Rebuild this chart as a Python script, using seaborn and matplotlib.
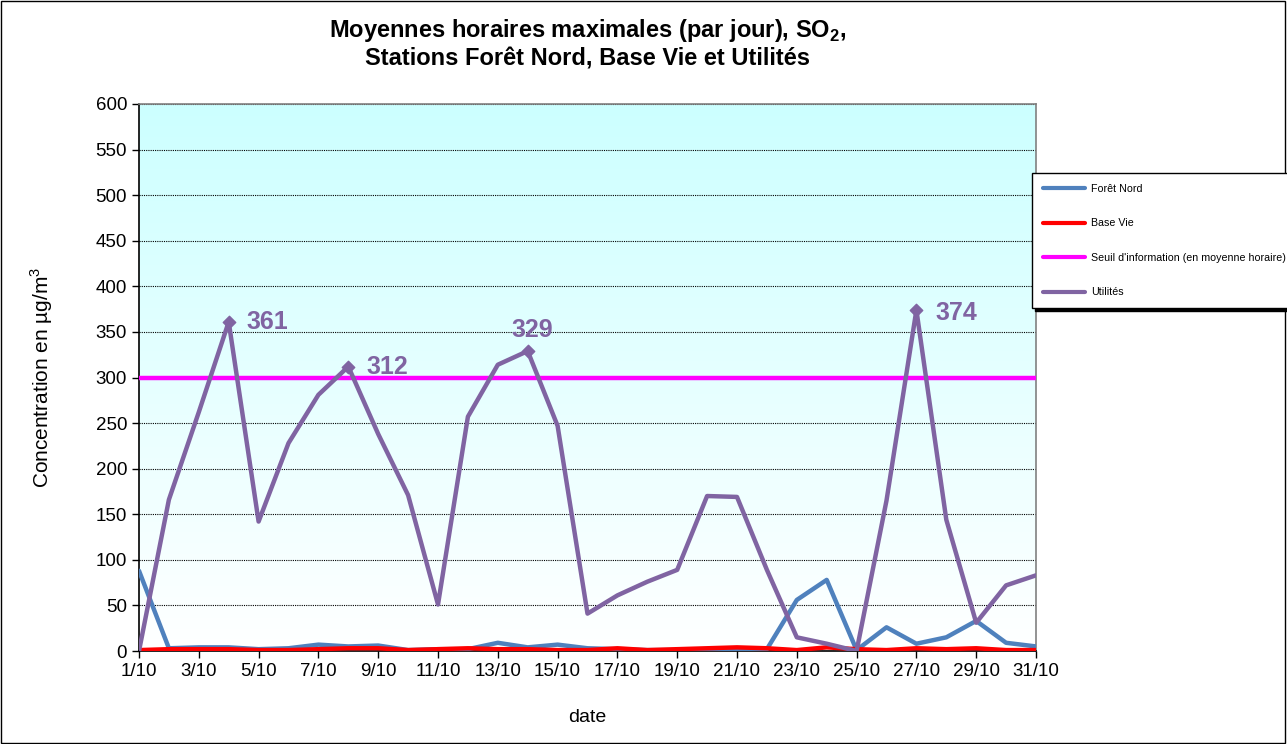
import matplotlib
matplotlib.use("Agg")
import matplotlib.pyplot as plt
import seaborn as sns
import pandas as pd
import numpy as np
from matplotlib.patches import Rectangle

# Data (October, daily max hourly means, µg/m3)
days = list(range(1, 32))
foret_nord = [88, 3, 4, 4, 2, 3, 7, 5, 6, 1, 2, 2, 9, 4, 7, 3, 2, 1, 1, 1,
              1, 2, 56, 78, 1, 26, 8, 15, 33, 9, 5]
base_vie = [1, 2, 2, 2, 1, 1, 2, 3, 3, 1, 2, 3, 2, 2, 1, 1, 3, 1, 2, 3,
            4, 3, 1, 4, 2, 1, 3, 2, 3, 1, 1]
seuil = [300] * 31
utilites = [0, 166, 262, 361, 142, 228, 281, 312, 238, 171, 51, 257, 314, 329,
            247, 41, 61, 76, 89, 170, 169, 89, 15, 8, 0, 165, 374, 144, 31, 72, 83]
peak_days = [4, 8, 14, 27]

series_names = ["Forêt Nord", "Base Vie",
                "Seuil d'information (en moyenne horaire)", "Utilités"]
series_colors = ["#4F81BD", "#FF0000", "#FF00FF", "#8064A2"]

df = pd.DataFrame({"jour": days, series_names[0]: foret_nord,
                   series_names[1]: base_vie, series_names[2]: seuil,
                   series_names[3]: utilites})
long_df = df.melt(id_vars="jour", var_name="serie", value_name="conc")

sns.set_style("white")
plt.rcParams["font.family"] = ["Liberation Sans", "DejaVu Sans"]
plt.rcParams["text.color"] = "black"
plt.rcParams["axes.labelcolor"] = "black"
plt.rcParams["mathtext.fontset"] = "custom"
plt.rcParams["mathtext.rm"] = "Liberation Sans"
plt.rcParams["mathtext.bf"] = "Liberation Sans:bold"

fig = plt.figure(figsize=(12.87, 7.44), dpi=100)
ax = fig.add_axes([139 / 1287, 1 - 651 / 744, (1036 - 139) / 1287, (651 - 104) / 744])

# gradient background (cyan at top -> white at bottom)
grad = np.linspace(1, 0, 256).reshape(-1, 1)
cmap = matplotlib.colors.LinearSegmentedColormap.from_list("bg", ["#FFFFFF", "#CCFFFF"])
ax.imshow(grad, extent=[1, 31, 0, 600], aspect="auto", cmap=cmap, zorder=0)

sns.lineplot(data=long_df, x="jour", y="conc", hue="serie", hue_order=series_names,
             palette=series_colors, linewidth=3.2, ax=ax, legend=False, zorder=3)

# diamond markers and labels on the Utilités peaks
peak_vals = [utilites[d - 1] for d in peak_days]
ax.scatter(peak_days, peak_vals, marker="D", s=40, color="#8064A2", zorder=4)
offsets = [(13, 0), (13, 0), (3, 15), (14, -2)]
for d, v, (dx, dy) in zip(peak_days, peak_vals, offsets):
    ax.annotate(str(v), (d, v), xytext=(dx, dy), textcoords="offset points",
                ha="left" if dx > 5 else "center", va="center", fontsize=18,
                fontweight="bold", color="#8064A2", zorder=5)

ax.set_xlim(1, 31)
ax.set_ylim(0, 600)
ax.set_yticks(range(0, 601, 50))
ax.set_xticks(days[::2])
ax.set_xticklabels([f"{d}/10" for d in days[::2]])
ax.tick_params(axis="both", direction="out", length=5, width=1, colors="black",
               labelsize=13.5, bottom=True, left=True)
ax.yaxis.grid(True, linestyle=(0, (1, 1)), color="black", linewidth=0.8)
for line in ax.get_ygridlines():
    line.set_zorder(1)
ax.spines["left"].set_color("black")
ax.spines["bottom"].set_color("black")
ax.spines["top"].set_color("#808080")
ax.spines["right"].set_color("#808080")
for s in ax.spines.values():
    s.set_linewidth(1.2)

ax.set_xlabel("date", fontsize=14, labelpad=21)
ax.set_ylabel("Concentration en µg/m$^3$", fontsize=15, labelpad=29)
ax.set_title("Moyennes horaires maximales (par jour), SO$_\\mathbf{2}$,\n"
             "Stations Forêt Nord, Base Vie et Utilités",
             fontsize=17, fontweight="bold", pad=28)

# legend on the right, partly cut by the figure edge, with a black shadow
handles = [plt.Line2D([], [], color=c, linewidth=3) for c in series_colors]
leg = fig.legend(handles, series_names, loc="upper left",
                 bbox_to_anchor=(1032 / 1287, 1 - 173 / 744), fontsize=7.7,
                 frameon=True, fancybox=False,
                 shadow={"color": "black", "alpha": 1},
                 handlelength=4.0, labelspacing=2.3, borderpad=1.0,
                 handletextpad=0.5, borderaxespad=0)
leg.get_frame().set_edgecolor("black")
leg.get_frame().set_linewidth(1)

fig.patches.append(Rectangle((0.0005, 0.001), 0.998, 0.998, transform=fig.transFigure,
                             fill=False, edgecolor="black", linewidth=1))

fig.savefig("out.png", dpi=100)
